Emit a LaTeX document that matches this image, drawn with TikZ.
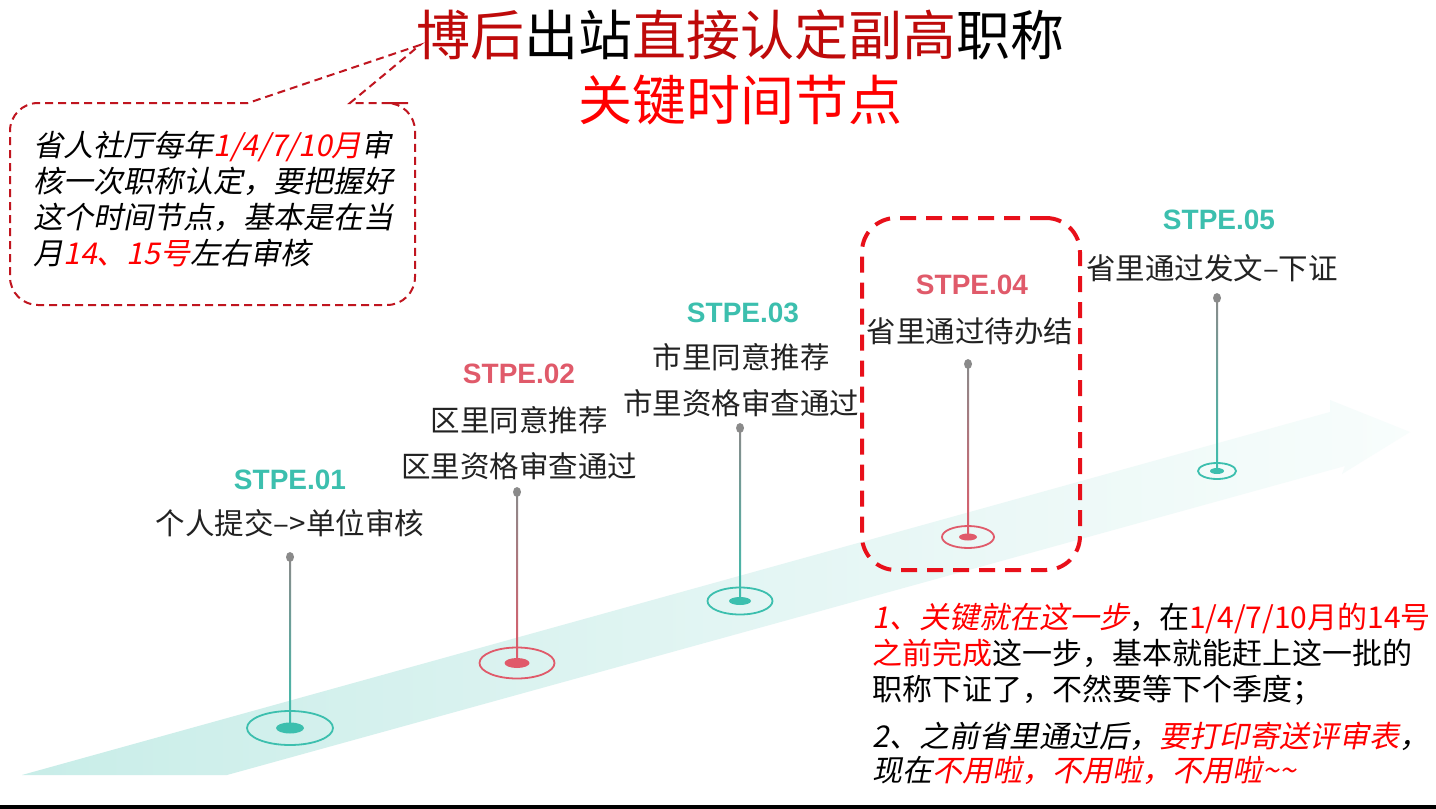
\documentclass[tikz,border=0pt]{standalone}
\usepackage{fontspec}
\setmainfont{Noto Sans CJK SC}
\newfontfamily\cjkit[FakeSlant=0.2]{Noto Sans CJK SC}
\newfontfamily\latinb{Liberation Sans}
\usetikzlibrary{calc}
\definecolor{teal1}{HTML}{3CBFAE}
\definecolor{pink1}{HTML}{E05A6A}
\definecolor{dred}{HTML}{BE0A0A}
\definecolor{bred}{HTML}{FF0000}
\definecolor{boxred}{HTML}{E8101A}
\definecolor{callred}{HTML}{C0151F}
\definecolor{txt}{HTML}{222222}
\definecolor{stemgray}{HTML}{8A8A8A}
\definecolor{bandL}{HTML}{C8EDE8}
\definecolor{bandM}{HTML}{E2F5F3}
\definecolor{bandR}{HTML}{F8FDFC}
\begin{document}
\begin{tikzpicture}[x=0.5pt,y=-0.5pt,
  steplbl/.style={font=\latinb\bfseries\fontsize{14}{16}\selectfont, inner sep=0pt},
  steptxt/.style={font=\fontsize{14.75}{17}\selectfont, text=txt, inner sep=0pt},
  titlefont/.style={font=\fontsize{27}{30}\selectfont, inner sep=0pt},
  para/.style={align=left, anchor=west, inner sep=0pt, text=black},
]
\useasboundingbox (0,0) rectangle (1436,809);
\fill[white] (0,0) rectangle (1436,809);

% ribbon
\shade[left color=bandL, right color=bandR, middle color=bandM]
  (22,775) -- (227,775) -- (1345,466) -- (1342,474) -- (1410,432)
  -- (1330,400) -- (1330,412) -- cycle;

% bottom rule
\fill[black] (0,805) rectangle (1436,809);

% title
\node[titlefont] (title1) at (740,35) {\textcolor{dred}{博后}出站\textcolor{dred}{直接认定副高}职称};
\node[titlefont, text=bred] (title2) at (740,100) {关键时间节点};

% callout
\draw[callred, line width=1pt, dash pattern=on 4pt off 2.5pt]
  (248,103) [rounded corners=14pt] -- (10,103) -- (10,305) -- (415,305) -- (415,103) -- (380,103)
  [sharp corners] -- (350,103) -- (420,45) -- cycle;
\node[para, font=\cjkit\fontsize{15}{18}\selectfont] (calltext) at (33,199)
  {省人社厅每年\textcolor{bred}{1/4/7/10月}审\\核一次职称认定，要把握好\\这个时间节点，基本是在当\\月\textcolor{bred}{14、15号}左右审核};

% key box
\node[draw=boxred, line width=2pt, dash pattern=on 8pt off 5pt, rounded corners=17pt,
  minimum width=109pt, minimum height=176pt, inner sep=0pt] (keybox) at (971,394) {};

% steps
\foreach \i/\x/\yd/\ye/\col/\rx/\ry/\irx/\iry in {
  1/290/557/728/teal1/43/17/14/5.5,
  2/517/492/663/pink1/37.5/15.5/12.5/5,
  3/740/428/601/teal1/32.5/13.5/11/4,
  4/968/364/537/pink1/26/11/9/3.5,
  5/1217/298/471/teal1/19/8/7/3}{
  \coordinate (d\i) at (\x,\yd);
  \coordinate (e\i) at (\x,\ye);
  \shade[top color=stemgray, bottom color=\col] ($(d\i)+(-1,0)$) rectangle ($(e\i)+(1,0)$);
  \fill[stemgray] (d\i) ellipse [x radius=4, y radius=5];
  \draw[\col, line width=0.9pt] (e\i) ellipse [x radius=\rx, y radius=\ry];
  \fill[\col] (e\i) ellipse [x radius=\irx, y radius=\iry];
}

\node[steplbl, text=teal1] (s1) at (290,480) {STPE.01};
\node[steptxt] (t1) at (290,523) {个人提交–>单位审核};

\node[steplbl, text=pink1] (s2) at (519,374) {STPE.02};
\node[steptxt] (t2a) at (519,420) {区里同意推荐};
\node[steptxt] (t2b) at (519,466) {区里资格审查通过};

\node[steplbl, text=teal1] (s3) at (743,313) {STPE.03};
\node[steptxt] (t3a) at (741,357) {市里同意推荐};
\node[steptxt] (t3b) at (741,403) {市里资格审查通过};

\node[steplbl, text=pink1] (s4) at (972,285) {STPE.04};
\node[steptxt] (t4) at (970,331) {省里通过待办结};

\node[steplbl, text=teal1] (s5) at (1219,220) {STPE.05};
\node[steptxt] (t5) at (1212,268) {省里通过发文–下证};

% bottom notes
\node[para, font=\fontsize{15}{18}\selectfont] (note1) at (872,654)
  {{\cjkit\textcolor{bred}{1、关键就在这一步}}，在\textcolor{bred}{1/4/7/10月的14号}\\\textcolor{bred}{之前完成}这一步，基本就能赶上这一批的\\职称下证了，不然要等下个季度；};
\node[para, font=\cjkit\fontsize{15}{17}\selectfont] (note2) at (872,753)
  {2、之前省里通过后，\textcolor{bred}{要打印寄送评审表}，\\现在\textcolor{bred}{不用啦，不用啦，不用啦\textasciitilde\textasciitilde}};
\end{tikzpicture}
\end{document}
